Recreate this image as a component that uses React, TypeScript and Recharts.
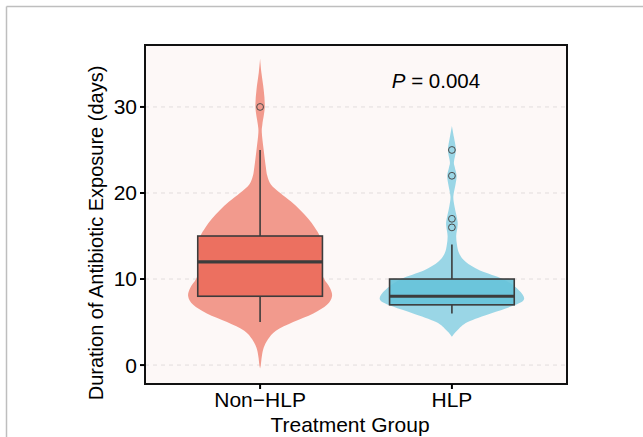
import React from 'react';
import { ScatterChart, Scatter, XAxis, YAxis, CartesianGrid, ReferenceArea } from 'recharts';

// ---- data ----
const groups = ['Non\u2212HLP', 'HLP'];
const groupPositions = [1, 2];

// violin outlines: y levels and relative density (0..1)
const nonHlpLevels = [-0.4, 0, 1, 2, 3, 4, 5, 6, 7, 8, 9, 10, 11, 12, 13, 14, 15, 16, 17, 18, 19, 20, 21, 22, 23, 25, 27, 28, 30, 32, 34, 35.6];
const nonHlpDensity = [0, 0.01, 0.024, 0.05, 0.11, 0.22, 0.46, 0.74, 0.93, 1, 0.97, 0.89, 0.85, 0.83, 0.85, 0.85, 0.83, 0.76, 0.67, 0.56, 0.43, 0.28, 0.15, 0.1, 0.08, 0.05, 0.024, 0.032, 0.065, 0.05, 0.018, 0];
const hlpLevels = [3.3, 4, 5, 6, 6.8, 7.6, 8.7, 10, 11, 12, 13, 14, 15, 16, 16.6, 17.5, 18.5, 19.6, 21, 22, 23, 23.6, 25, 26.5, 27.8];
const hlpDensity = [0, 0.07, 0.22, 0.54, 0.82, 1, 0.93, 0.71, 0.39, 0.19, 0.1, 0.07, 0.06, 0.076, 0.08, 0.06, 0.035, 0.02, 0.05, 0.065, 0.04, 0.028, 0.055, 0.028, 0];

// box stats: lower whisker, Q1, median, Q3, upper whisker
const nonHlpBox = [5, 8, 12, 15, 25];
const hlpBox = [6, 7, 8, 10, 14];
const nonHlpOutliers = [30];
const hlpOutliers = [16, 17, 22, 25];

const yTicks = [0, 10, 20, 30];
const yDomain = [-2.2, 37.2];
const xDomain = [0.4, 2.6];
const pText = { label: '= 0.004', x: 1.917, y: 32.2 };

// ---- styling constants ----
const VIOLIN_HALF = 0.375;
const BOX_HALF = 0.325;
const FONT = '"Liberation Sans", Arial, Helvetica, sans-serif';

const violinPoints = (pos: number, levels: number[], dens: number[]) => [
  ...levels.map((y, i) => ({ x: pos - dens[i] * VIOLIN_HALF, y })),
  ...levels.map((y, i) => ({ x: pos + dens[i] * VIOLIN_HALF, y })).reverse(),
];

const boxPoints = (pos: number, s: number[]) => [
  { x: pos, y: s[0] },
  { x: pos - BOX_HALF, y: s[1] },
  { x: pos + BOX_HALF, y: s[3] },
  { x: pos, y: s[2] },
  { x: pos, y: s[4] },
];

const outlierPoints = (pos: number, vals: number[]) => vals.map((y) => ({ x: pos, y }));

function smoothSide(pts: { x: number; y: number }[]) {
  let d = '';
  for (let i = 0; i < pts.length - 1; i++) {
    const p0 = pts[i - 1] || pts[i];
    const p1 = pts[i];
    const p2 = pts[i + 1];
    const p3 = pts[i + 2] || p2;
    const c1x = p1.x + (p2.x - p0.x) / 6;
    const c1y = p1.y + (p2.y - p0.y) / 6;
    const c2x = p2.x - (p3.x - p1.x) / 6;
    const c2y = p2.y - (p3.y - p1.y) / 6;
    d += ` C${c1x},${c1y} ${c2x},${c2y} ${p2.x},${p2.y}`;
  }
  return d;
}

const violinLine = (fill: string) => (props: any) => {
  const pts = props.points as { x: number; y: number }[];
  if (!pts || pts.length < 4) return <g />;
  const n = pts.length / 2;
  const left = pts.slice(0, n);
  const right = pts.slice(n);
  const d = `M${left[0].x},${left[0].y}` + smoothSide(left) + ` L${right[0].x},${right[0].y}` + smoothSide(right) + ' Z';
  return <path d={d} fill={fill} stroke="none" />;
};

const boxLine = (fill: string) => (props: any) => {
  const p = props.points as { x: number; y: number }[];
  if (!p || p.length < 5) return <g />;
  const [lw, q1, q3, med, uw] = p;
  const stroke = '#3c3c3c';
  return (
    <g>
      <line x1={lw.x} y1={lw.y} x2={lw.x} y2={q1.y} stroke={stroke} strokeWidth={1.6} />
      <line x1={uw.x} y1={uw.y} x2={uw.x} y2={q3.y} stroke={stroke} strokeWidth={1.6} />
      <rect x={q1.x} y={q3.y} width={q3.x - q1.x} height={q1.y - q3.y} fill={fill} fillOpacity={0.9} stroke={stroke} strokeWidth={1.6} />
      <line x1={q1.x} y1={med.y} x2={q3.x} y2={med.y} stroke={stroke} strokeWidth={3.2} />
    </g>
  );
};

const noShape = () => <g />;
const outlierShape = (props: any) => (
  <circle cx={props.cx} cy={props.cy} r={3.4} fill="none" stroke="#4a4a4a" strokeWidth={1} />
);
const pShape = (props: any) => (
  <text x={props.cx} y={props.cy} textAnchor="middle" fontSize={20.5} fill="#000" fontFamily={FONT}>
    <tspan fontStyle="italic">P</tspan> {pText.label}
  </text>
);

export default function App() {
  return (
    <div style={{ position: 'absolute', left: 0, top: 0, width: 643, height: 437, background: '#fff', fontFamily: FONT }}>
      <ScatterChart width={643} height={437} margin={{ top: 45, right: 76, bottom: 0, left: 85 }} style={{ fontFamily: FONT }}>
        <CartesianGrid vertical={false} horizontal stroke="#E2DDDD" strokeDasharray="4 4" fill="#FDF8F7" />
        <XAxis
          type="number"
          dataKey="x"
          domain={xDomain}
          ticks={groupPositions}
          allowDataOverflow
          interval={0}
          height={53}
          tickSize={5}
          tickMargin={3}
          axisLine={false}
          tickLine={{ stroke: '#000', strokeWidth: 2 }}
          tick={{ fill: '#000', fontSize: 21 }}
          tickFormatter={(v: number) => groups[groupPositions.indexOf(v)] ?? ''}
        />
        <YAxis
          type="number"
          dataKey="y"
          domain={yDomain}
          ticks={yTicks}
          allowDataOverflow
          interval={0}
          width={60}
          tickSize={5}
          tickMargin={3}
          axisLine={false}
          tickLine={{ stroke: '#000', strokeWidth: 2 }}
          tick={{ fill: '#000', fontSize: 21 }}
        />
        <Scatter data={violinPoints(groupPositions[0], nonHlpLevels, nonHlpDensity)} line={violinLine('#F29A8D')} shape={noShape} isAnimationActive={false} />
        <Scatter data={violinPoints(groupPositions[1], hlpLevels, hlpDensity)} line={violinLine('#9AD6E6')} shape={noShape} isAnimationActive={false} />
        <Scatter data={boxPoints(groupPositions[0], nonHlpBox)} line={boxLine('#EB6B5B')} shape={noShape} isAnimationActive={false} />
        <Scatter data={boxPoints(groupPositions[1], hlpBox)} line={boxLine('#66C3D9')} shape={noShape} isAnimationActive={false} />
        <Scatter data={outlierPoints(groupPositions[0], nonHlpOutliers)} shape={outlierShape} isAnimationActive={false} />
        <Scatter data={outlierPoints(groupPositions[1], hlpOutliers)} shape={outlierShape} isAnimationActive={false} />
        <Scatter data={[{ x: pText.x, y: pText.y }]} shape={pShape} isAnimationActive={false} />
        <ReferenceArea x1={xDomain[0]} x2={xDomain[1]} y1={yDomain[0]} y2={yDomain[1]} fill="none" stroke="#111" strokeWidth={2} ifOverflow="visible" />
      </ScatterChart>
      <svg width={643} height={437} style={{ position: 'absolute', left: 0, top: 0, pointerEvents: 'none' }}>
        <line x1={6.5} y1={6.5} x2={643} y2={6.5} stroke="#BEBEBE" strokeWidth={1.5} />
        <line x1={6.5} y1={6.5} x2={6.5} y2={437} stroke="#BEBEBE" strokeWidth={1.5} />
        <text x={350} y={432} textAnchor="middle" fontSize={21} fill="#000" fontFamily={FONT}>Treatment Group</text>
        <text x={0} y={0} transform="translate(103,233) rotate(-90)" textAnchor="middle" fontSize={20} fill="#000" fontFamily={FONT}>
          Duration of Antibiotic Exposure (days)
        </text>
      </svg>
    </div>
  );
}
